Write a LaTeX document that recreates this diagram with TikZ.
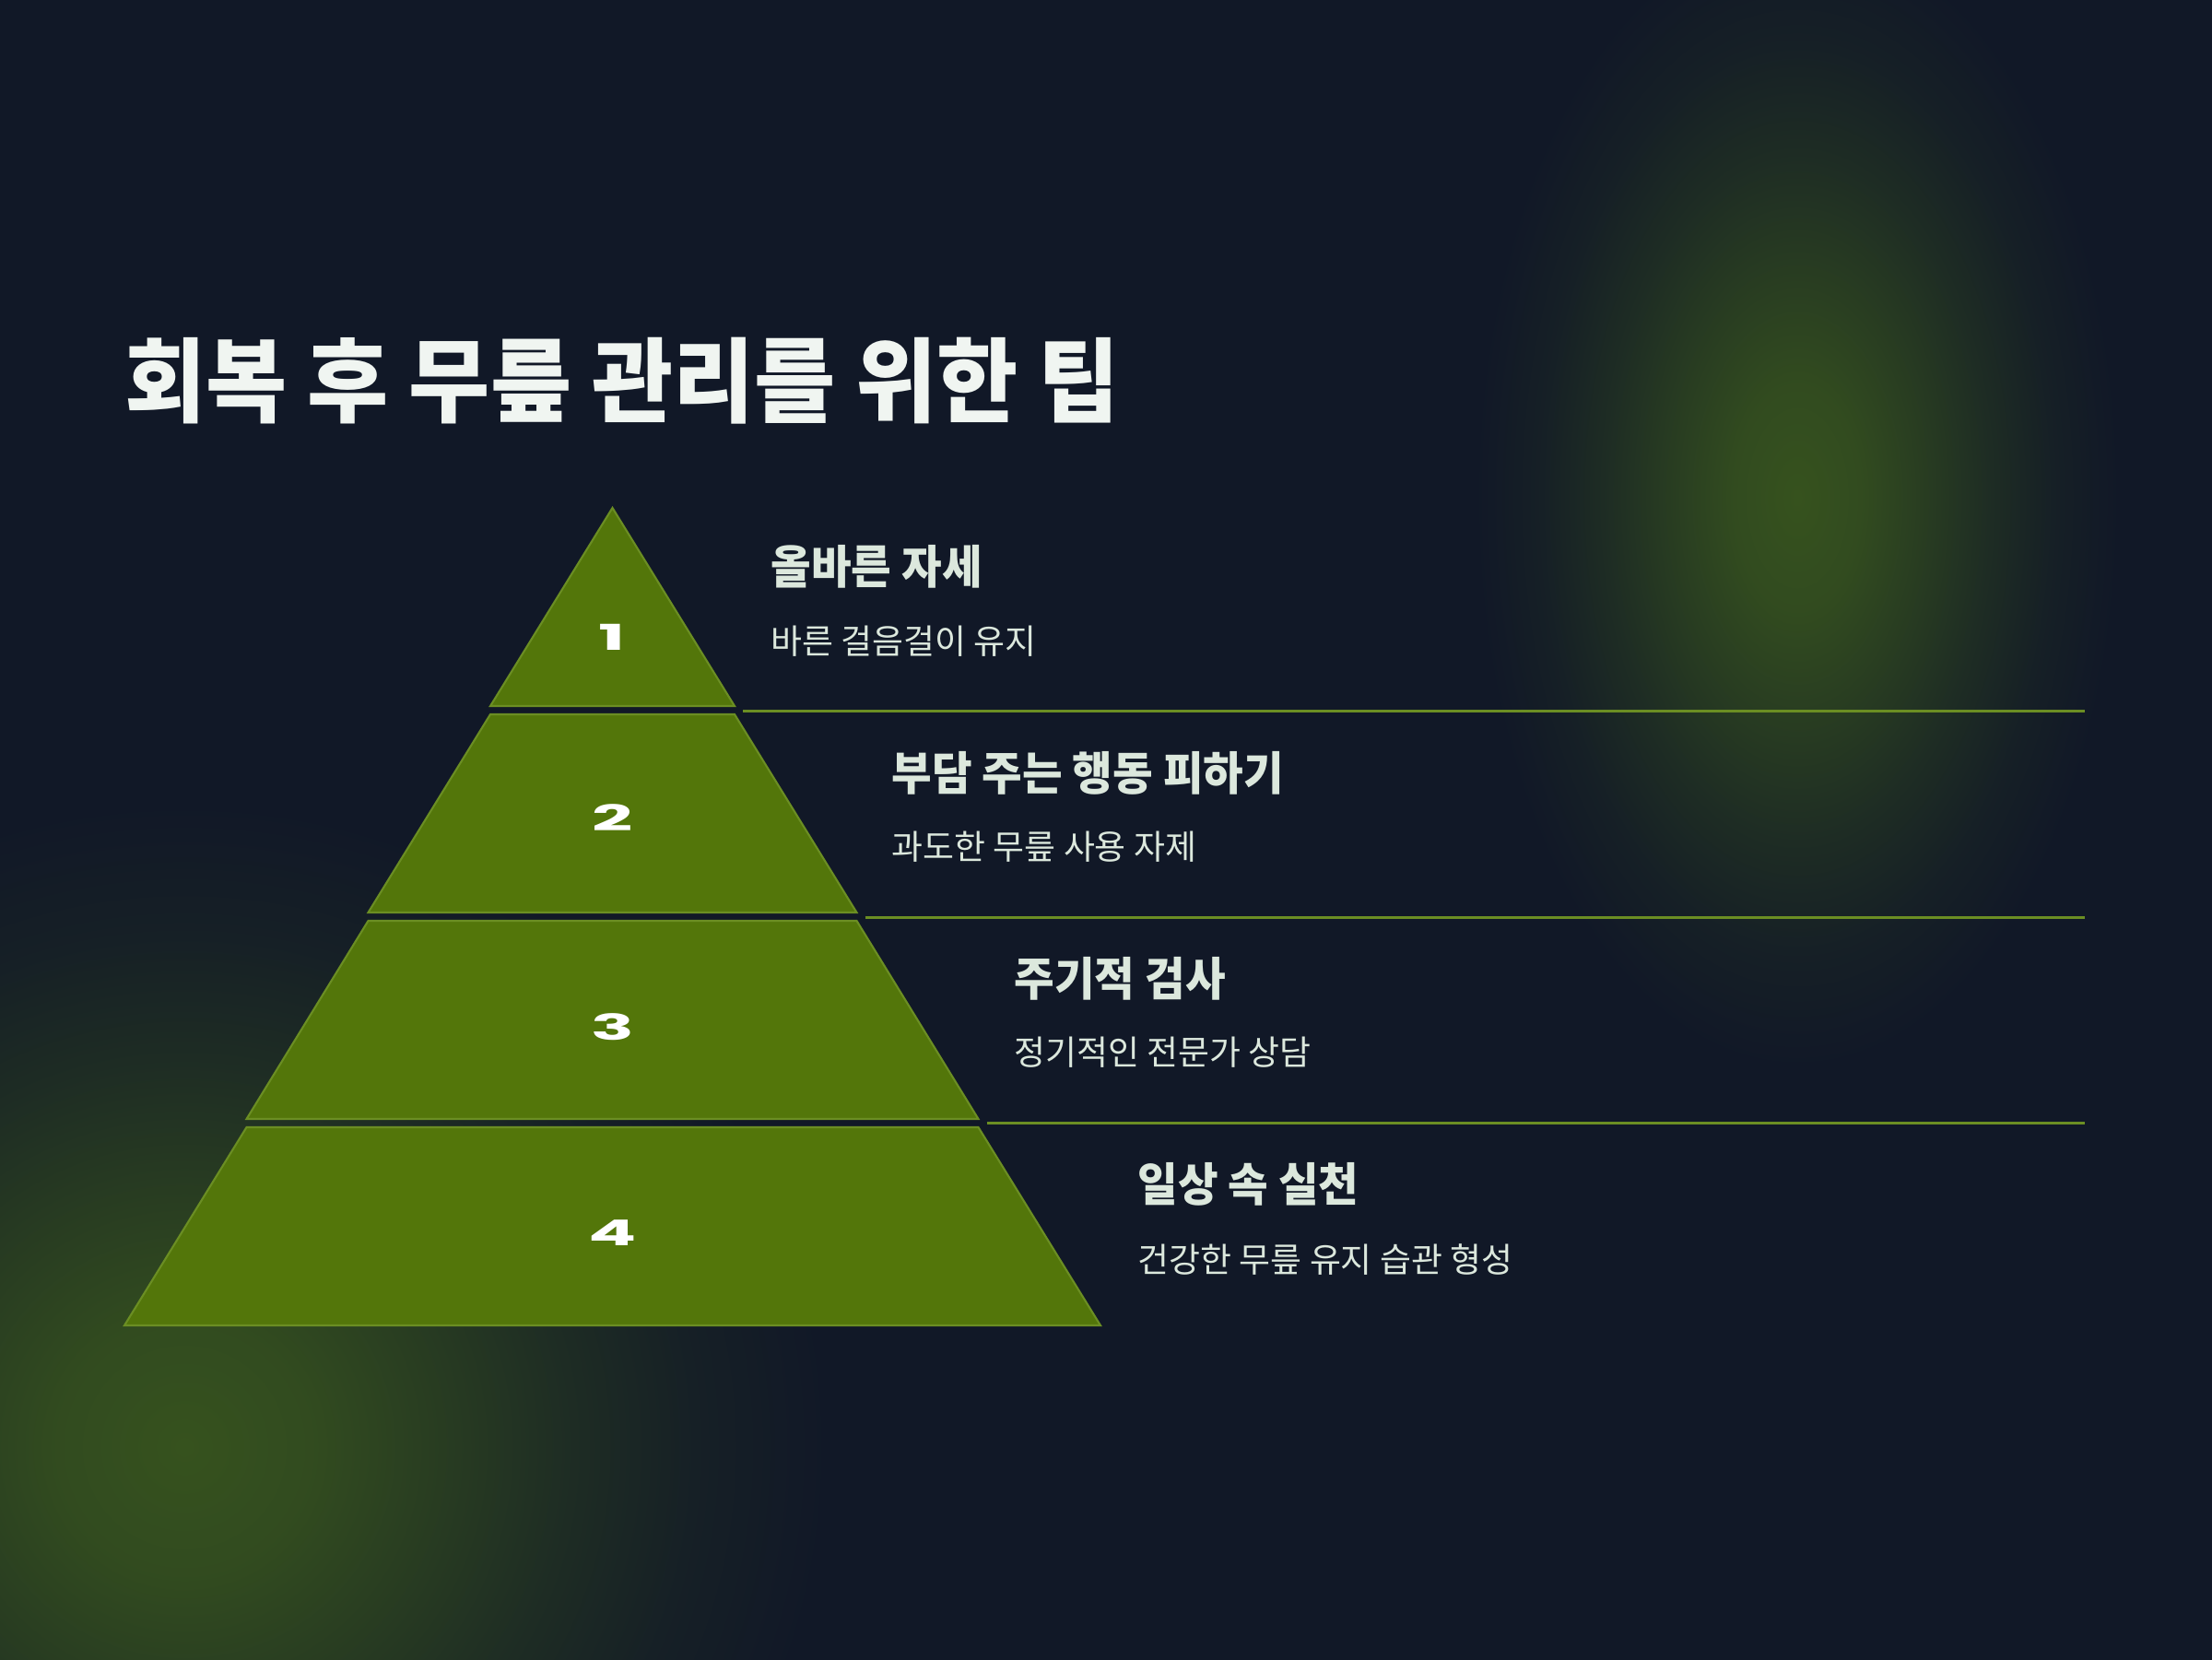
\documentclass[tikz,border=0pt]{standalone}
\usepackage{fontspec}
\usepackage{graphicx}
\usepackage{xcolor}
\usepackage{tikz}
\newfontfamily\kofont{Noto Sans CJK KR}
\newfontfamily\kotitle{Noto Sans CJK KR}[FakeStretch=0.96]
\newfontfamily\kohead{Noto Sans CJK KR}[FakeStretch=0.95]
\newfontfamily\numfont{Poppins}
\definecolor{NavyBack}{RGB}{17,24,39}
\definecolor{OliveFill}{RGB}{83,118,10}
\definecolor{OliveEdge}{RGB}{107,142,35}
\definecolor{GlowGreen}{RGB}{54,82,30}
\definecolor{TitleWhite}{RGB}{240,245,241}
\definecolor{MintText}{RGB}{220,232,221}
\pgfdeclareradialshading{softglow}{\pgfpoint{0bp}{0bp}}{%
  color(0bp)=(GlowGreen);
  color(5bp)=(GlowGreen!88!NavyBack);
  color(10bp)=(GlowGreen!62!NavyBack);
  color(15bp)=(GlowGreen!35!NavyBack);
  color(20bp)=(GlowGreen!13!NavyBack);
  color(25bp)=(NavyBack);
  color(50bp)=(NavyBack)}

\begin{document}
\begin{tikzpicture}[
  tierbox/.style={fill=OliveFill,draw=OliveEdge,line width=0.6pt},
  sepline/.style={OliveEdge,line width=0.7pt},
  numlabel/.style={text=white,inner sep=0pt,font=\numfont\bfseries\fontsize{11}{11}\selectfont},
  headtext/.style={anchor=west,inner sep=0pt,text=MintText,font=\kohead\bfseries\fontsize{14.2}{16}\selectfont},
  subtext/.style={anchor=west,inner sep=0pt,text=MintText,font=\kofont\fontsize{10.5}{12}\selectfont}]

  % 배경과 빛 번짐
  \useasboundingbox (0,0) rectangle (24,-18);
  \fill[NavyBack] (-0.2,0.2) rectangle (24.2,-18.2);
  \shade[shading=softglow] (19.5,-5.4) ellipse (3.5 and 6.2);
  \shade[shading=softglow] (2.0,-15.7) circle (7);

  % 제목
  \node[anchor=west,inner sep=0pt,text=TitleWhite,font=\kotitle\bfseries\fontsize{28.4}{30}\selectfont]
    (title) at (1.35,-4.13) {회복 후 무릎 관리를 위한 팁};

  % 피라미드 네 단
  \draw[tierbox] (6.645,-5.51) -- (7.97,-7.66) -- (5.32,-7.66) -- cycle;
  \draw[tierbox] (5.32,-7.75) -- (7.97,-7.75) -- (9.295,-9.90) -- (3.995,-9.90) -- cycle;
  \draw[tierbox] (3.995,-9.99) -- (9.295,-9.99) -- (10.615,-12.14) -- (2.675,-12.14) -- cycle;
  \draw[tierbox] (2.675,-12.23) -- (10.615,-12.23) -- (11.94,-14.38) -- (1.35,-14.38) -- cycle;

  \node[numlabel] (n1) at (6.645,-6.91) {\scalebox{2.0}[1]{1}};
  \node[numlabel] (n2) at (6.65,-8.87) {\scalebox{2.0}[1]{2}};
  \node[numlabel] (n3) at (6.65,-11.14) {\scalebox{2.0}[1]{3}};
  \node[numlabel] (n4) at (6.65,-13.38) {\scalebox{2.0}[1]{4}};

  % 구분선
  \draw[sepline] (8.06,-7.715) -- (22.62,-7.715);
  \draw[sepline] (9.385,-9.955) -- (22.62,-9.955);
  \draw[sepline] (10.705,-12.185) -- (22.62,-12.185);

  % 단계별 설명
  \node[headtext] (h1) at (8.36,-6.15) {올바른 자세};
  \node[subtext] (s1) at (8.36,-6.96) {바른 걸음걸이 유지};
  \node[headtext] (h2) at (9.67,-8.39) {부담 주는 행동 피하기};
  \node[subtext] (s2) at (9.67,-9.19) {과도한 무릎 사용 자제};
  \node[headtext] (h3) at (11.00,-10.62) {주기적 검사};
  \node[subtext] (s3) at (11.00,-11.42) {정기적인 전문가 상담};
  \node[headtext] (h4) at (12.34,-12.85) {일상 속 실천};
  \node[subtext] (s4) at (12.34,-13.66) {건강한 무릎 유지 습관 형성};
\end{tikzpicture}
\end{document}
